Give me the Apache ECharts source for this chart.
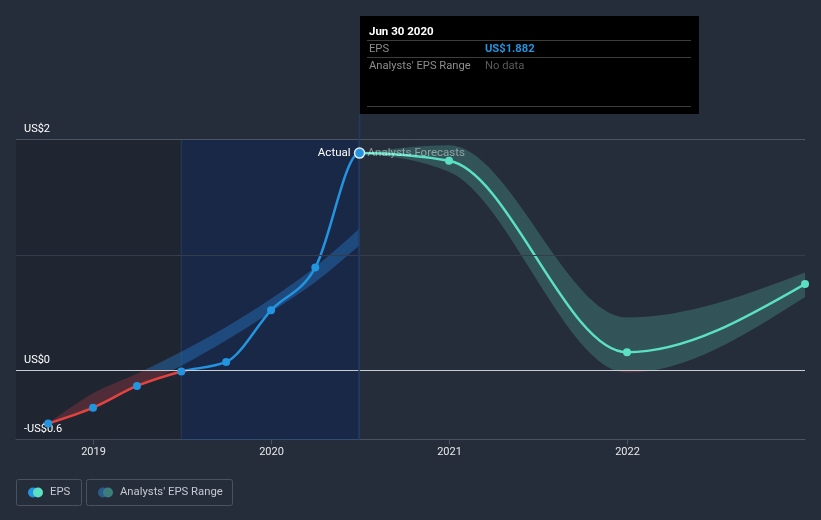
<!DOCTYPE html>
<html><head><meta charset="utf-8">
<script src="https://cdn.jsdelivr.net/npm/echarts@6/dist/echarts.min.js"></script>
<style>html,body{margin:0;padding:0;background:#262d3a;}#c{width:821px;height:520px;}</style>
</head><body><div id="c"></div>
<script>
// ---- data ----
const epsDates = ['2018-09-30','2018-12-31','2019-03-31','2019-06-30','2019-09-30','2019-12-31','2020-03-31','2020-06-30'];
const epsValues = [-0.462,-0.324,-0.136,-0.01,0.072,0.52,0.89,1.882];
const pastRangeLow = [-0.462,-0.32,-0.145,0.04,0.26,0.505,0.765,1.084];
const pastRangeHigh = [-0.462,-0.20,-0.03,0.16,0.375,0.62,0.895,1.228];
const fcDates = ['2020-06-30','2020-12-31','2021-12-31','2022-12-31'];
const fcValues = [1.882,1.815,0.156,0.748];
const fcLow = [1.882,1.72,-0.02,0.636];
const fcHigh = [1.882,1.95,0.457,0.847];
const xTickYears = [2019,2020,2021,2022];
const yLabelValues = [2,0,-0.6];
const xMinDate = '2018-07-26', xMaxDate = '2022-12-31';
const yMin = -0.6, yMax = 2;
const pastEndDate = '2019-06-30', actualEndDate = '2020-06-30';

// date string -> decimal year (x axis is a value axis in years)
function toYear(s) {
  const d = new Date(s + 'T00:00:00Z');
  const y = d.getUTCFullYear();
  const a = Date.UTC(y, 0, 1), b = Date.UTC(y + 1, 0, 1);
  return y + (d.getTime() - a) / (b - a);
}
const xMin = toYear(xMinDate), xMax = toYear(xMaxDate);
const pastEnd = toYear(pastEndDate), actualEnd = toYear(actualEndDate);

const BLUE = '#2394df', RED = '#e2433f', TEAL = '#5ce0c4';
const fmtUS = v => (v < 0 ? '-US$' + Math.abs(v) : 'US$' + v);

// monotone-x cubic path through pixel points, drawn for indices [from..to]
function monoTangents(p) {
  const n = p.length, t = new Array(n).fill(0);
  const sgn = v => (v > 0 ? 1 : v < 0 ? -1 : 0);
  for (let i = 1; i < n - 1; i++) {
    const h0 = p[i][0] - p[i - 1][0], h1 = p[i + 1][0] - p[i][0];
    const s0 = (p[i][1] - p[i - 1][1]) / h0, s1 = (p[i + 1][1] - p[i][1]) / h1;
    const q = (s0 * h1 + s1 * h0) / (h0 + h1);
    t[i] = (sgn(s0) + sgn(s1)) * Math.min(Math.abs(s0), Math.abs(s1), 0.5 * Math.abs(q)) || 0;
  }
  if (n > 1) {
    const h0 = p[1][0] - p[0][0];
    t[0] = n > 2 ? (3 * (p[1][1] - p[0][1]) / h0 - t[1]) / 2 : (p[1][1] - p[0][1]) / h0;
    const hl = p[n - 1][0] - p[n - 2][0];
    t[n - 1] = n > 2 ? (3 * (p[n - 1][1] - p[n - 2][1]) / hl - t[n - 2]) / 2 : (p[n - 1][1] - p[n - 2][1]) / hl;
  }
  return t;
}
function monoPath(p, from, to, reverse) {
  const t = monoTangents(p);
  let d = '';
  if (!reverse) {
    for (let i = from; i < to; i++) {
      const dx = (p[i + 1][0] - p[i][0]) / 3;
      d += ' C' + (p[i][0] + dx) + ',' + (p[i][1] + dx * t[i]) + ' ' + (p[i + 1][0] - dx) + ',' + (p[i + 1][1] - dx * t[i + 1]) + ' ' + p[i + 1][0] + ',' + p[i + 1][1];
    }
  } else {
    for (let i = to; i > from; i--) {
      const dx = (p[i][0] - p[i - 1][0]) / 3;
      d += ' C' + (p[i][0] - dx) + ',' + (p[i][1] - dx * t[i]) + ' ' + (p[i - 1][0] + dx) + ',' + (p[i - 1][1] + dx * t[i - 1]) + ' ' + p[i - 1][0] + ',' + p[i - 1][1];
    }
  }
  return d;
}
function splitFill(api, a, b) {
  const yT = api.coord([xMin, yMax])[1], yB = api.coord([xMin, yMin])[1], y0 = api.coord([xMin, 0])[1];
  const f = (y0 - yT) / (yB - yT);
  return new echarts.graphic.LinearGradient(0, yT, 0, yB, [
    {offset: 0, color: a}, {offset: f, color: a}, {offset: f, color: b}, {offset: 1, color: b}], true);
}
function bandSeries(dates, low, high, colAbove, colBelow) {
  return {
    type: 'custom', data: [0], z: 2, silent: true, clip: true,
    renderItem: (params, api) => {
      const up = dates.map((d, i) => api.coord([toYear(d), high[i]]));
      const lo = dates.map((d, i) => api.coord([toYear(d), low[i]]));
      const n = up.length - 1;
      const path = 'M' + up[0][0] + ',' + up[0][1] + monoPath(up, 0, n, false) +
        ' L' + lo[n][0] + ',' + lo[n][1] + monoPath(lo, 0, n, true) + ' Z';
      return {type: 'path', shape: {pathData: path}, style: {fill: splitFill(api, colAbove, colBelow)}};
    }
  };
}
// one continuous curve through actual + forecast values; each piece drawn separately
const allDates = epsDates.concat(fcDates.slice(1));
const allValues = epsValues.concat(fcValues.slice(1));
function curveSeries(from, to, colAbove, colBelow, z) {
  return {
    type: 'custom', data: [0], z: z, silent: true, clip: true,
    renderItem: (params, api) => {
      const p = allDates.map((d, i) => api.coord([toYear(d), allValues[i]]));
      const path = 'M' + p[from][0] + ',' + p[from][1] + monoPath(p, from, to, false);
      return {type: 'path', shape: {pathData: path},
        style: {fill: null, stroke: splitFill(api, colAbove, colBelow), lineWidth: 2.5, lineJoin: 'round'}};
    }
  };
}

const chart = echarts.init(document.getElementById('c'), null, {renderer: 'canvas'});

function buildOption(extra) {
  return {
    backgroundColor: '#262d3a',
    animation: false,
    textStyle: {fontFamily: 'Roboto, sans-serif'},
    grid: {left: 16, right: 16, top: 139.5, bottom: 80.5},
    xAxis: {
      type: 'value', min: xMin, max: xMax,
      axisLine: {onZero: false, lineStyle: {color: '#4a5160', width: 1}},
      axisTick: {show: true, customValues: xTickYears, length: 5, lineStyle: {color: '#4a5160'}},
      axisLabel: {customValues: xTickYears, formatter: v => String(Math.round(v)), color: '#e8e8e8', fontSize: 11, margin: 7},
      splitLine: {show: false}
    },
    yAxis: {type: 'value', min: yMin, max: yMax, axisLabel: {show: false}, axisLine: {show: false}, axisTick: {show: false}, splitLine: {show: false}},
    series: [
      { // background regions + gridlines
        type: 'line', data: [[xMin, null]], silent: true, z: 1,
        markArea: {silent: true, data: [
          [{xAxis: xMin, itemStyle: {color: 'rgba(12,12,14,0.2)'}}, {xAxis: pastEnd}],
          [{xAxis: pastEnd, itemStyle: {color: 'rgba(0,30,100,0.32)', borderColor: 'rgba(40,80,130,0.5)', borderWidth: 1}}, {xAxis: actualEnd}]
        ]},
        markLine: {silent: true, symbol: 'none', data: [
          {yAxis: 2, lineStyle: {color: '#4d5462', width: 1, type: 'solid'}},
          {yAxis: 1, lineStyle: {color: '#363d4a', width: 1, type: 'solid'}},
          {yAxis: 0, lineStyle: {color: '#c9ccd1', width: 1.2, type: 'solid'}},
          {xAxis: actualEnd, lineStyle: {color: '#1f3d63', width: 1.5, type: 'solid'}}
        ], label: {show: false}}
      },
      { // y labels
        type: 'line', data: [[xMin, null]], silent: true, z: 5,
        markLine: {silent: true, symbol: 'none', lineStyle: {color: 'rgba(0,0,0,0)', width: 0},
          data: yLabelValues.map(v => ({yAxis: v})),
          label: {show: true, position: 'insideStartTop', formatter: p => fmtUS(p.value), color: '#ffffff', fontSize: 11, distance: [8, 5]}}
      },
      bandSeries(epsDates, pastRangeLow, pastRangeHigh, 'rgba(38,120,200,0.42)', 'rgba(200,60,70,0.28)'),
      bandSeries(fcDates, fcLow, fcHigh, 'rgba(92,224,196,0.22)', 'rgba(200,60,70,0.3)'),
      curveSeries(epsDates.length - 1, allDates.length - 1, TEAL, TEAL, 4),
      curveSeries(0, epsDates.length - 1, BLUE, RED, 5),
      {type: 'scatter', name: 'EPS forecast', z: 6, symbol: 'circle', symbolSize: 8, clip: true, itemStyle: {color: TEAL, opacity: 1},
        data: fcDates.slice(1).map((d, i) => [toYear(d), fcValues[i + 1]])},
      {type: 'scatter', name: 'EPS', z: 7, symbol: 'circle', symbolSize: 8, clip: false, itemStyle: {color: BLUE, opacity: 1},
        data: epsDates.map((d, i) => {
          const last = i === epsDates.length - 1;
          return last ? {value: [toYear(d), epsValues[i]], symbolSize: 10, itemStyle: {color: BLUE, borderColor: '#dfe9f5', borderWidth: 1.5}}
                      : [toYear(d), epsValues[i]];
        })}
    ],
    graphic: (extra && extra.graphic) || []
  };
}

chart.setOption(buildOption());

// overlay positions computed from the library's scales
const pTop = chart.convertToPixel({gridIndex: 0}, [xMin, yMax])[1];
const actualPt = chart.convertToPixel({gridIndex: 0}, [actualEnd, epsValues[epsValues.length - 1]]);
const ax = actualPt[0], ay = actualPt[1];

const tipX = Math.round(ax) + 0.5, tipY = 16, tipW = 339, tipH = 98;
const F = 'Roboto';
const graphic = [
  {type: 'line', shape: {x1: ax, y1: tipY + tipH, x2: ax, y2: pTop}, style: {stroke: '#1f3d63', lineWidth: 1.5}, z: 10},
  {type: 'text', x: ax - 9, y: ay, style: {text: 'Actual', fill: '#ffffff', fontSize: 11.5, align: 'right', verticalAlign: 'middle', fontFamily: F}, z: 20},
  {type: 'text', x: ax + 8, y: ay, style: {text: 'Analysts Forecasts', fill: 'rgba(255,255,255,0.45)', fontSize: 11.5, align: 'left', verticalAlign: 'middle', fontFamily: F}, z: 20},
  {type: 'group', x: tipX - 0.5, y: tipY, z: 30, children: [
    {type: 'rect', shape: {x: 0, y: 0, width: tipW, height: tipH}, style: {fill: '#000000'}},
    {type: 'text', x: 9, y: 16, style: {text: 'Jun 30 2020', fill: '#ffffff', fontSize: 11.5, fontWeight: 'bold', verticalAlign: 'middle', fontFamily: F}},
    {type: 'line', shape: {x1: 7, y1: 24.5, x2: 331, y2: 24.5}, style: {stroke: '#3d3d3d', lineWidth: 1}},
    {type: 'text', x: 9, y: 33, style: {text: 'EPS', fill: '#8d8d8d', fontSize: 11.2, verticalAlign: 'middle', fontFamily: F}},
    {type: 'text', x: 125, y: 33, style: {text: 'US$1.882', fill: BLUE, fontSize: 11.2, fontWeight: 'bold', verticalAlign: 'middle', fontFamily: F}},
    {type: 'line', shape: {x1: 7, y1: 41.5, x2: 331, y2: 41.5}, style: {stroke: '#3d3d3d', lineWidth: 1}},
    {type: 'text', x: 9, y: 50, style: {text: "Analysts' EPS Range", fill: '#8d8d8d', fontSize: 11.2, verticalAlign: 'middle', fontFamily: F}},
    {type: 'text', x: 125, y: 50, style: {text: 'No data', fill: '#5a5a5a', fontSize: 11.2, verticalAlign: 'middle', fontFamily: F}},
    {type: 'line', shape: {x1: 7, y1: 90.5, x2: 331, y2: 90.5}, style: {stroke: '#3d3d3d', lineWidth: 1}}
  ]},
  {type: 'group', x: 16, y: 479, z: 30, children: [
    {type: 'rect', shape: {x: 0.5, y: 0.5, width: 65, height: 26, r: 2}, style: {fill: 'none', stroke: '#4a5160', lineWidth: 1}},
    {type: 'circle', shape: {cx: 17, cy: 13.5, r: 5}, style: {fill: BLUE}},
    {type: 'circle', shape: {cx: 22, cy: 13.5, r: 5}, style: {fill: TEAL}},
    {type: 'text', x: 34, y: 13.5, style: {text: 'EPS', fill: '#c5c9d0', fontSize: 11.3, verticalAlign: 'middle', fontFamily: F}},
    {type: 'rect', shape: {x: 70.5, y: 0.5, width: 146, height: 26, r: 2}, style: {fill: 'none', stroke: '#4a5160', lineWidth: 1}},
    {type: 'circle', shape: {cx: 87, cy: 13.5, r: 5}, style: {fill: '#275d8c'}},
    {type: 'circle', shape: {cx: 92, cy: 13.5, r: 5}, style: {fill: '#3c7c7a'}},
    {type: 'text', x: 104, y: 13.5, style: {text: "Analysts' EPS Range", fill: '#c5c9d0', fontSize: 11.3, verticalAlign: 'middle', fontFamily: F}}
  ]}
];

chart.setOption(buildOption({graphic: graphic}), true);
</script>
</body></html>
